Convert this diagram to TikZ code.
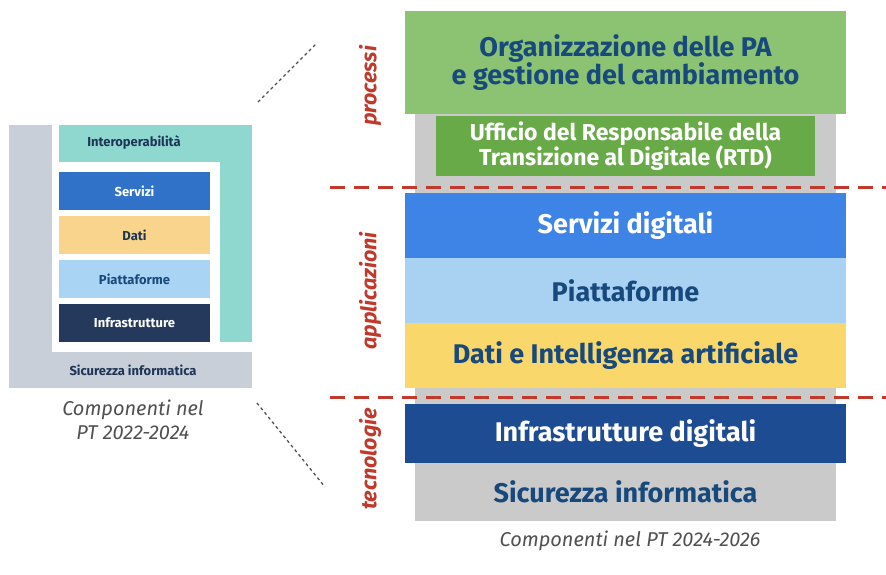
\documentclass[tikz,border=0pt]{standalone}
\usepackage{fontspec}
\setmainfont{Fira Sans}

\definecolor{pared}{HTML}{C0392B}
\definecolor{txtblue}{HTML}{17497D}
\definecolor{colgray}{HTML}{CACACA}
\definecolor{orggreen}{HTML}{8CC373}
\definecolor{rtdgreen}{HTML}{69AA48}
\definecolor{srvblue}{HTML}{3E84E6}
\definecolor{pltblue}{HTML}{A9D1F2}
\definecolor{datyellow}{HTML}{FAD76B}
\definecolor{infblue}{HTML}{1E4C92}
\definecolor{oldgray}{HTML}{C8CFD9}
\definecolor{oldteal}{HTML}{8FD8D0}
\definecolor{oldsrv}{HTML}{2F72C8}
\definecolor{olddat}{HTML}{F8D48D}
\definecolor{oldplt}{HTML}{AAD4F3}
\definecolor{oldinf}{HTML}{25395C}
\definecolor{oldtxt}{HTML}{1E3556}
\definecolor{capgray}{HTML}{505050}

\begin{document}
\begin{tikzpicture}[x=1pt, y=-1pt,
    layer/.style={rectangle, inner sep=0pt, minimum width=441pt, align=center, text=txtblue,
        font=\bfseries\fontsize{27}{26}\selectfont},
    oldbox/.style={rectangle, inner sep=0pt, minimum width=151pt, minimum height=38pt, align=center,
        font=\bfseries\fontsize{13}{15}\selectfont},
    tag/.style={rotate=90, text=pared, font=\bfseries\itshape\fontsize{21.5}{24}\selectfont},
    caption/.style={align=center, text=capgray, font=\itshape\fontsize{20}{24}\selectfont},
    sep/.style={draw=pared, line width=3pt, dash pattern=on 15pt off 9pt},
    zoomline/.style={draw=capgray, line width=1.3pt, dash pattern=on 3pt off 3pt}
]
    \useasboundingbox (0,0) rectangle (886,574);

    % Old components (2022-2024)
    \fill[oldgray] (9,125) rectangle (252,388);
    \fill[white] (52,125) rectangle (252,352);
    \fill[oldteal] (59,125) rectangle (252,342);
    \fill[white] (59,162) rectangle (220,342);
    \node[font=\bfseries\fontsize{13}{15}\selectfont, text=oldtxt] (interop) at (134,143) {Interoperabilità};
    \node[oldbox, fill=oldsrv, text=white] (osrv) at (134.5,191) {Servizi};
    \node[oldbox, fill=olddat, text=oldtxt] (odat) at (134.5,235) {Dati};
    \node[oldbox, fill=oldplt, text=txtblue] (oplt) at (134.5,279) {Piattaforme};
    \node[oldbox, fill=oldinf, text=white] (oinf) at (134.5,323) {Infrastrutture};
    \node[font=\bfseries\fontsize{13}{15}\selectfont, text=oldtxt] (osic) at (133,370) {Sicurezza informatica};
    \node[caption] (oldcap) at (133,420) {Componenti nel\\PT 2022-2024};

    % Zoom lines
    \coordinate (ztop) at (317,43);
    \coordinate (zbot) at (325,487);
    \coordinate (otop) at (258,102);
    \coordinate (obot) at (257,403);
    \draw[zoomline] (otop) -- (ztop);
    \draw[zoomline] (obot) -- (zbot);

    % New components (2024-2026)
    \fill[colgray] (415,114) rectangle (836,463);
    \node[layer, fill=orggreen, minimum height=103pt] (org) at (625.5,62.5) {Organizzazione delle PA\\e gestione del cambiamento};
    \node[layer, fill=rtdgreen, text=white, minimum width=379pt, minimum height=60pt,
        font=\bfseries\fontsize{23}{25}\selectfont] (rtd) at (625.5,146) {Ufficio del Responsabile della\\Transizione al Digitale (RTD)};
    \node[layer, fill=srvblue, text=white, minimum height=65pt] (srv) at (625.5,225.5) {Servizi digitali};
    \node[layer, fill=pltblue, minimum height=65pt] (plt) at (625.5,290.5) {Piattaforme};
    \node[layer, fill=datyellow, minimum height=65pt] (dat) at (625.5,355.5) {Dati e Intelligenza artificiale};
    \node[layer, fill=infblue, text=white, minimum height=59pt] (inf) at (625.5,433.5) {Infrastrutture digitali};
    \node[layer, fill=colgray, minimum width=421pt, minimum height=58pt] (sic) at (625.5,492) {Sicurezza informatica};
    \node[caption] (newcap) at (630,541) {Componenti nel PT 2024-2026};

    % Separators and tags
    \coordinate (s1a) at (330,187);
    \coordinate (s1b) at (886,187);
    \coordinate (s2a) at (330,397);
    \coordinate (s2b) at (886,397);
    \draw[sep] (s1a) -- (s1b);
    \draw[sep] (s2a) -- (s2b);
    \node[tag] (processi) at (370,86) {processi};
    \node[tag] (applicazioni) at (370,291) {applicazioni};
    \node[tag] (tecnologie) at (370,459) {tecnologie};
\end{tikzpicture}
\end{document}
